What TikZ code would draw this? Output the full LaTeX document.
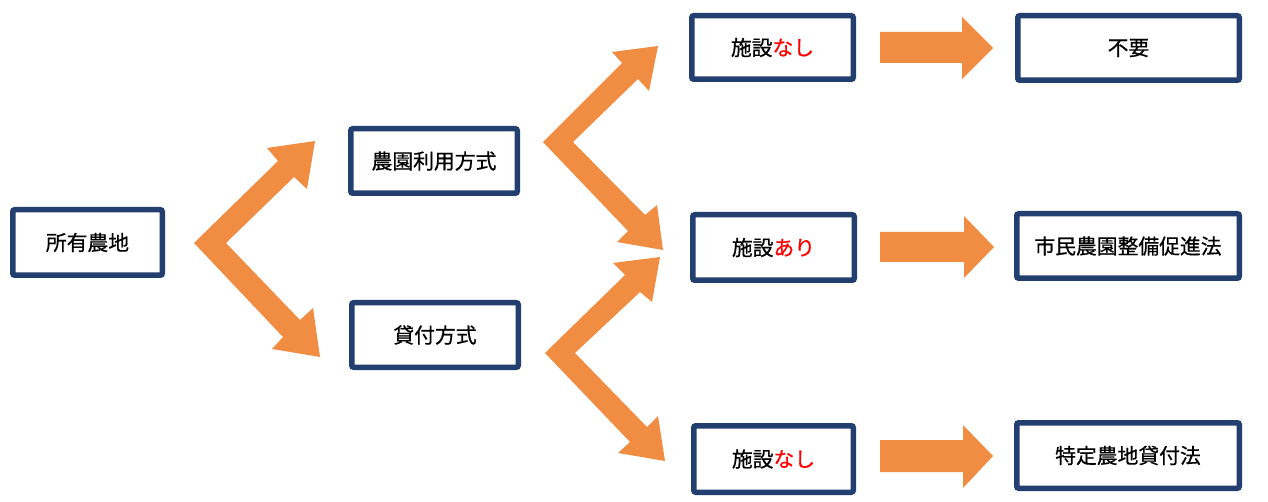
\documentclass[tikz,border=0pt]{standalone}
\usepackage{fontspec}
\setmainfont{Noto Sans CJK JP}[FakeBold=0.6]
\definecolor{navy}{HTML}{223F6F}
\definecolor{orng}{HTML}{F08D42}
\definecolor{redtxt}{HTML}{FF0000}
\tikzset{
  box/.style={draw=navy, line width=5.5pt, fill=white, rounded corners=2pt,
    inner sep=0pt, font=\fontsize{20.8}{24}\selectfont, text=black},
  shape fill/.style={fill=orng, draw=none}
}
\begin{document}
\begin{tikzpicture}[x=1pt,y=-1pt]
\useasboundingbox (0,0) rectangle (1268,502);
% boxes (outer size minus line width)
\node[box, minimum width=149.5pt, minimum height=65.5pt] (a) at (87.5,242.5) {所有農地};
\node[box, minimum width=166.5pt, minimum height=64.5pt] (b) at (434,161) {農園利用方式};
\node[box, minimum width=166.5pt, minimum height=64.5pt] (c) at (435,335) {貸付方式};
\node[box, minimum width=161.5pt, minimum height=63.5pt] (d) at (772.5,47.5) {施設{\color{redtxt}なし}};
\node[box, minimum width=161.5pt, minimum height=65.5pt] (e) at (773.5,247.5) {施設{\color{redtxt}あり}};
\node[box, minimum width=159.5pt, minimum height=66.5pt] (f) at (773.5,459) {施設{\color{redtxt}なし}};
\node[box, minimum width=221.5pt, minimum height=64.5pt] (g) at (1128.5,48) {不要};
\node[box, minimum width=222.5pt, minimum height=64.5pt] (h) at (1128,246) {市民農園整備促進法};
\node[box, minimum width=222.5pt, minimum height=65.5pt] (i) at (1128,455.5) {特定農地貸付法};
% chevron arrows
\fill[shape fill] (194,243) -- (278,161) -- (267,148) -- (315,141) -- (307,189) -- (294,177)
  -- (226,243) -- (300,320) -- (313,308) -- (320,357) -- (272,349) -- (283,337) -- cycle;
\fill[shape fill] (543,142) -- (622,63) -- (612,52) -- (658,46) -- (649,91) -- (638,79)
  -- (573,142) -- (645,215) -- (657,205) -- (663,250) -- (617,242) -- (628,231) -- cycle;
\fill[shape fill] (545,353) -- (625,275) -- (613,263) -- (660,257) -- (652,302) -- (640,292)
  -- (575,353) -- (647,427) -- (658,416) -- (665,461) -- (618,453) -- (630,442) -- cycle;
% right arrows
\fill[shape fill] (880,32) -- (962,32) -- (962,17) -- (993,48) -- (962,79) -- (962,63) -- (880,63) -- cycle;
\fill[shape fill] (880,232) -- (964,232) -- (964,216) -- (994,247) -- (964,278) -- (964,262) -- (880,262) -- cycle;
\fill[shape fill] (880,440) -- (963,440) -- (963,425) -- (993,456) -- (963,488) -- (963,472) -- (880,472) -- cycle;
\end{tikzpicture}
\end{document}
